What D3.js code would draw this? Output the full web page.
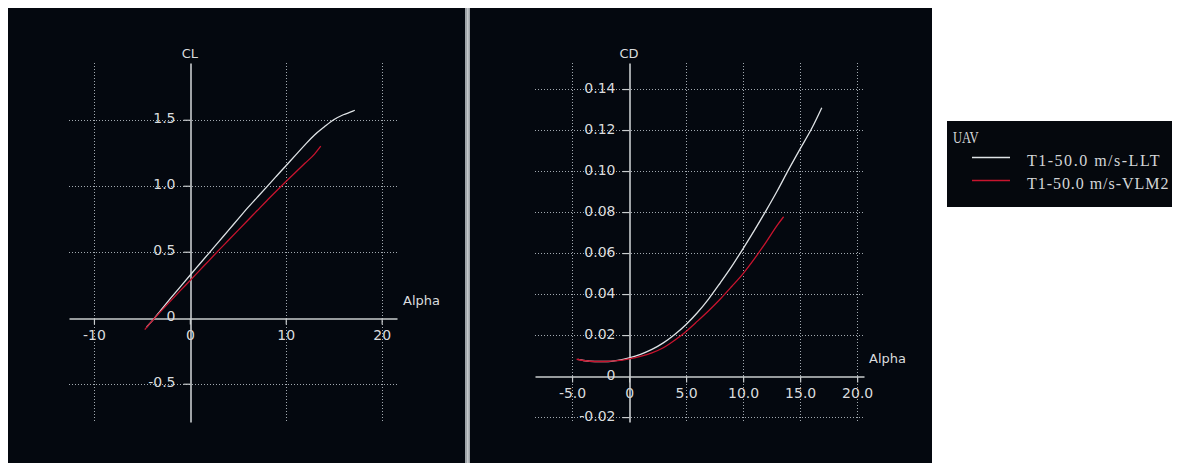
<!DOCTYPE html>
<html>
<head>
<meta charset="utf-8">
<script src="https://cdn.jsdelivr.net/npm/d3@7"></script>
<style>
  html, body { margin: 0; padding: 0; background: #ffffff; }
  svg { display: block; }
  .tick-label { font-family: "DejaVu Sans", Verdana, sans-serif; font-size: 14px; fill: #dadcde; }
  .axis-title { font-family: "DejaVu Sans", Verdana, sans-serif; font-size: 13px; fill: #dadcde; }
  .legend-text { font-family: "Liberation Serif", "DejaVu Serif", serif; font-size: 16px; fill: #d4d6d8; }
</style>
</head>
<body>
<svg id="chart" width="1181" height="463"></svg>
<script>
// ---- Lift coefficient vs angle of attack ----
const clAlphaLLT = [-4.5, -4, -3, -2, -1, 0, 1, 2, 3, 4, 5, 6, 7, 8, 9, 10, 11, 12, 13, 14, 15, 16, 17, 17.2];
const clValuesLLT = [-0.07, -0.03, 0.06, 0.148, 0.234, 0.32, 0.405, 0.49, 0.575, 0.66, 0.745, 0.83, 0.91, 0.99, 1.07, 1.15, 1.23, 1.31, 1.385, 1.445, 1.50, 1.538, 1.565, 1.572];

const clAlphaVLM = [-4.7, -4, -3, -2, -1, 0, 1, 2, 3, 4, 5, 6, 7, 8, 9, 10, 11, 12, 13, 13.65];
const clValuesVLM = [-0.09, -0.03, 0.05, 0.128, 0.205, 0.28, 0.357, 0.433, 0.51, 0.585, 0.66, 0.735, 0.81, 0.885, 0.958, 1.03, 1.10, 1.17, 1.24, 1.30];

// ---- Drag coefficient vs angle of attack ----
const cdAlphaLLT = [-4.5, -4, -3, -2, -1, 0, 1, 2, 3, 4, 5, 6, 7, 8, 9, 10, 11, 12, 13, 14, 15, 16, 16.9];
const cdValuesLLT = [0.0081, 0.0076, 0.0071, 0.0071, 0.0077, 0.0089, 0.0106, 0.0130, 0.0162, 0.0203, 0.0252, 0.0310, 0.0378, 0.0455, 0.0535, 0.0622, 0.0712, 0.0806, 0.0904, 0.1008, 0.1108, 0.1206, 0.1309];

const cdAlphaVLM = [-4.6, -4, -3, -2, -1, 0, 1, 2, 3, 4, 5, 6, 7, 8, 9, 10, 11, 12, 13, 13.55];
const cdValuesVLM = [0.0082, 0.0076, 0.0071, 0.0071, 0.0075, 0.0084, 0.0096, 0.0113, 0.0138, 0.0175, 0.0218, 0.0268, 0.0320, 0.0376, 0.0437, 0.0500, 0.0573, 0.0652, 0.0736, 0.0777];

// ---- Ticks and labels ----
const clXTicks = [-10, 0, 10, 20];
const clXTickLabels = ["-10", "0", "10", "20"];
const clYTicks = [-0.5, 0, 0.5, 1.0, 1.5];
const clYTickLabels = ["-0.5", "0", "0.5", "1.0", "1.5"];

const cdXTicks = [-5, 0, 5, 10, 15, 20];
const cdXTickLabels = ["-5.0", "0", "5.0", "10.0", "15.0", "20.0"];
const cdYTicks = [-0.02, 0, 0.02, 0.04, 0.06, 0.08, 0.10, 0.12, 0.14];
const cdYTickLabels = ["-0.02", "0", "0.02", "0.04", "0.06", "0.08", "0.10", "0.12", "0.14"];

const seriesNames = ["T1-50.0 m/s-LLT", "T1-50.0 m/s-VLM2"];
const seriesColors = ["#dfe3e6", "#c8142e"];
const legendTitle = "UAV";

const svg = d3.select("#chart");
const bg = "#04080f";

// panel backgrounds and divider
svg.append("rect").attr("x", 8).attr("y", 8).attr("width", 457).attr("height", 455).attr("fill", bg);
svg.append("rect").attr("x", 465).attr("y", 8).attr("width", 5).attr("height", 455).attr("fill", "#9ea3a8");
svg.append("rect").attr("x", 467).attr("y", 8).attr("width", 1.5).attr("height", 455).attr("fill", "#c3c7ca");
svg.append("rect").attr("x", 470).attr("y", 8).attr("width", 462).attr("height", 455).attr("fill", bg);

function drawPanel(cfg) {
  const g = svg.append("g");
  const x = d3.scaleLinear().domain(cfg.xDomain).range(cfg.xRange);
  const y = d3.scaleLinear().domain(cfg.yDomain).range(cfg.yRange);
  const x0 = x(0), y0 = y(0);

  // dotted grid
  const grid = g.append("g").attr("stroke", "#a2a9b0").attr("stroke-width", 1)
    .attr("stroke-dasharray", "1,2");
  grid.selectAll("line.v").data(cfg.xTicks.filter(d => d !== 0)).join("line")
    .attr("x1", d => Math.round(x(d)) + 0.5).attr("x2", d => Math.round(x(d)) + 0.5)
    .attr("y1", cfg.yRange[1]).attr("y2", cfg.yRange[0]);
  grid.selectAll("line.h").data(cfg.yTicks.filter(d => d !== 0)).join("line")
    .attr("y1", d => Math.round(y(d)) + 0.5).attr("y2", d => Math.round(y(d)) + 0.5)
    .attr("x1", cfg.xRange[0]).attr("x2", cfg.xRange[1]);

  // x axis through y = 0
  const xAxis = d3.axisBottom(x).tickValues(cfg.xTicks)
    .tickFormat((d, i) => cfg.xTickLabels[i]).tickSize(6).tickSizeOuter(0);
  const gx = g.append("g").attr("transform", `translate(0,${Math.round(y0) + 0.5})`).call(xAxis);
  gx.select(".domain").attr("stroke", "#c9ccce").attr("stroke-width", 1.6);
  gx.selectAll(".tick line").attr("stroke", "#c9ccce").attr("stroke-width", 1.2);
  gx.selectAll(".tick text").attr("class", "tick-label").attr("font-family", null).attr("font-size", null)
    .attr("fill", null).attr("y", 16).attr("dy", "0.36em");

  // y axis through x = 0
  const yAxis = d3.axisLeft(y).tickValues(cfg.yTicks)
    .tickFormat((d, i) => cfg.yTickLabels[i]).tickSize(7).tickSizeOuter(0);
  const gy = g.append("g").attr("transform", `translate(${Math.round(x0) + 0.5},0)`).call(yAxis);
  gy.select(".domain").attr("stroke", "#c9ccce").attr("stroke-width", 1.6);
  gy.selectAll(".tick line").attr("stroke", "#c9ccce").attr("stroke-width", 1.2)
    .attr("display", d => d === 0 ? "none" : null);
  gy.selectAll(".tick text").attr("class", "tick-label").attr("font-family", null).attr("font-size", null)
    .attr("fill", null).attr("x", -cfg.yLabelGap).attr("dy", "0.22em");

  // axis titles
  g.append("text").attr("class", "axis-title").attr("x", x0).attr("y", 53)
    .attr("text-anchor", "middle").attr("dy", "0.36em").text(cfg.yTitle);
  g.append("text").attr("class", "axis-title").attr("x", cfg.alphaPos[0]).attr("y", cfg.alphaPos[1])
    .attr("dy", "0.36em").text("Alpha");

  // curves
  const line = d3.line().x(d => x(d[0])).y(d => y(d[1])).curve(d3.curveMonotoneX);
  cfg.series.forEach((s, i) => {
    g.append("path").datum(d3.zip(s.alpha, s.values))
      .attr("fill", "none").attr("stroke", seriesColors[i]).attr("stroke-width", 1.3)
      .attr("d", line);
  });
}

drawPanel({
  xDomain: [-12.6, 21.6], xRange: [69, 397],
  yDomain: [-0.79, 1.93], yRange: [422, 63],
  xTicks: clXTicks, xTickLabels: clXTickLabels,
  yTicks: clYTicks, yTickLabels: clYTickLabels,
  yLabelGap: 15, yTitle: "CL", alphaPos: [403, 300],
  series: [
    { alpha: clAlphaLLT, values: clValuesLLT },
    { alpha: clAlphaVLM, values: clValuesVLM }
  ]
});

drawPanel({
  xDomain: [-8.25, 20.6], xRange: [535, 864],
  yDomain: [-0.0224, 0.1527], yRange: [422, 63],
  xTicks: cdXTicks, xTickLabels: cdXTickLabels,
  yTicks: cdYTicks, yTickLabels: cdYTickLabels,
  yLabelGap: 14, yTitle: "CD", alphaPos: [869, 358],
  series: [
    { alpha: cdAlphaLLT, values: cdValuesLLT },
    { alpha: cdAlphaVLM, values: cdValuesVLM }
  ]
});

// legend: fixed-pitch look, each character on a 9px cell
const pitch = 8.9;
const lg = svg.append("g");
lg.append("rect").attr("x", 947).attr("y", 121).attr("width", 225).attr("height", 86).attr("fill", "#05080d");
lg.append("text").attr("class", "legend-text")
  .attr("x", 953).attr("y", 142.5)
  .attr("textLength", legendTitle.length * pitch - 1).attr("lengthAdjust", "spacingAndGlyphs")
  .text(legendTitle);
seriesNames.forEach((name, i) => {
  const cy = 157.5 + i * 23;
  lg.append("line").attr("x1", 972).attr("x2", 1010).attr("y1", cy).attr("y2", cy)
    .attr("stroke", seriesColors[i]).attr("stroke-width", 1.6);
  lg.append("text").attr("class", "legend-text")
    .attr("x", 1027).attr("y", cy + 8.3)
    .attr("textLength", name.length * pitch - 1).attr("lengthAdjust", "spacing")
    .text(name);
});
</script>
</body>
</html>
